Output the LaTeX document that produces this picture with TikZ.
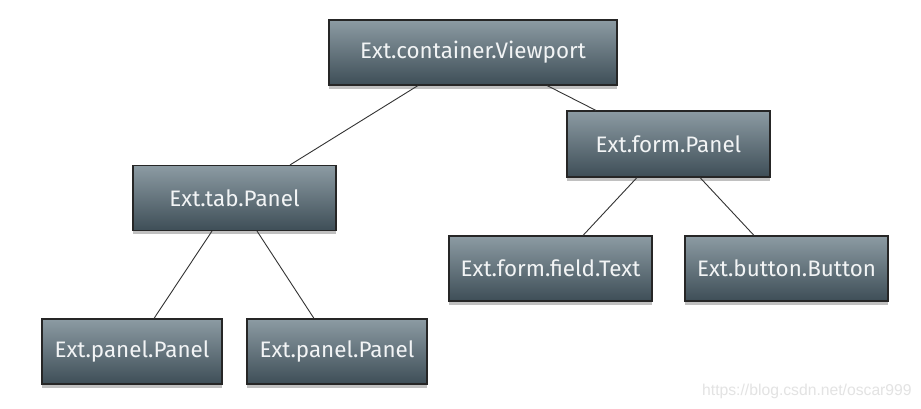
\documentclass[tikz,border=0pt]{standalone}
\usepackage{fontspec}
\setmainfont{Fira Sans}
\newfontfamily\urlfont{Liberation Sans}
\usetikzlibrary{shadows}
\definecolor{boxtop}{HTML}{8C9BA3}
\definecolor{boxbottom}{HTML}{3E4E57}
\definecolor{boxtext}{HTML}{F2F4F5}
\tikzset{
  classbox/.style={draw=black!85, line width=1.1pt, top color=boxtop, bottom color=boxbottom,
    text=boxtext, font=\fontsize{22.4}{25}\selectfont, minimum height=65pt, inner sep=0pt,
    drop shadow={shadow xshift=0pt, shadow yshift=-4pt, opacity=0.35, fill=black!70}},
  link/.style={line width=0.9pt, draw=black!80}
}
\begin{document}
\begin{tikzpicture}[x=1pt, y=1pt]
		%%%%% START %%%%%
		\useasboundingbox[fill=white] (0, 0) rectangle (921, 409);
		
		\node[classbox, minimum width=288pt] (viewport) at (473, 356.5) {Ext.container.Viewport};
		
		\node[classbox, minimum width=203pt] (tabpanel) at (234.5, 211) {Ext.tab.Panel};
		\node[classbox, minimum width=180pt] (panela) at (132, 57.5) {Ext.panel.Panel};
		\node[classbox, minimum width=180pt] (panelb) at (337, 57.5) {Ext.panel.Panel};
		
		\node[classbox, minimum width=203pt, minimum height=66pt] (formpanel) at (668.5, 265) {Ext.form.Panel};
		\node[classbox, minimum width=203pt] (fieldtext) at (550.5, 140.5) {Ext.form.field.Text};
		\node[classbox, minimum width=203pt] (button) at (786.5, 140.5) {Ext.button.Button};
		
		\draw[link] ([xshift=-55]viewport.south) -- ([xshift=55.5]tabpanel.north);
		\draw[link] ([xshift=74]viewport.south) -- ([xshift=-72.5]formpanel.north);
		
		\draw[link] ([xshift=-22.5]tabpanel.south) -- ([xshift=22]panela.north);
		\draw[link] ([xshift=22.5]tabpanel.south) -- ([xshift=-23]panelb.north);
		
		\draw[link] ([xshift=-31.5]formpanel.south) -- ([xshift=32.5]fieldtext.north);
		\draw[link] ([xshift=31.5]formpanel.south) -- ([xshift=-32.5]button.north);
		
		\node[anchor=base west, inner sep=0pt, text=black!11, font=\urlfont\fontsize{15.7}{18}\selectfont] (watermark) at (702, 13) {https://blog.csdn.net/oscar999};
		
		%%%%% END %%%%%
	\end{tikzpicture}
\end{document}
